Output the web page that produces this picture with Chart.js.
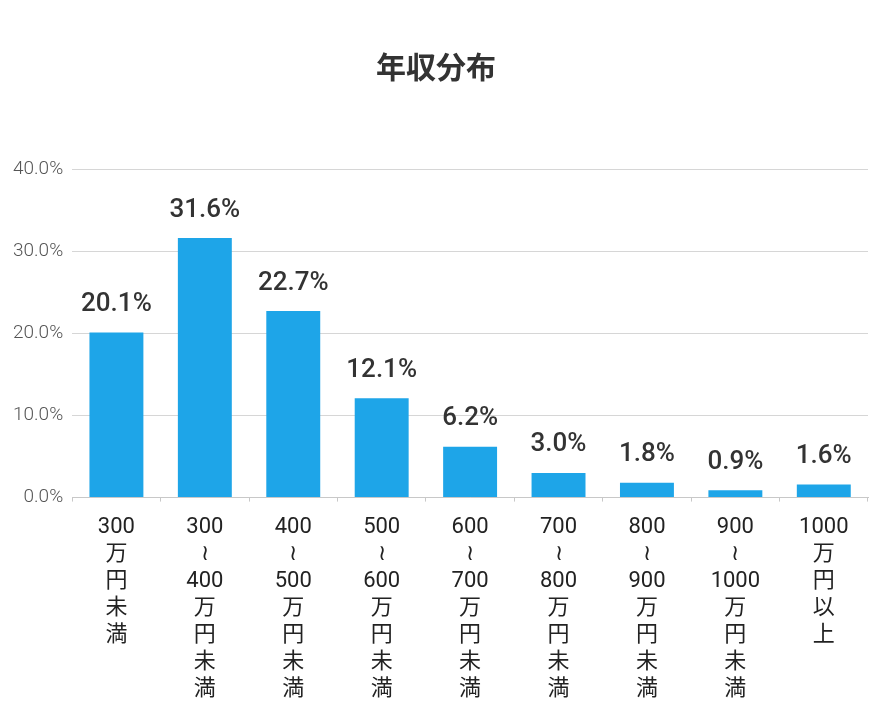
<!DOCTYPE html>
<html>
<head>
<meta charset="utf-8">
<style>
    body { margin: 0; background: #fff; }
    #wrap { width: 880px; height: 720px; }
</style>
</head>
<body>
<div id="wrap"><canvas id="incomeChart" width="880" height="720"></canvas></div>

<script src="https://cdn.jsdelivr.net/npm/chart.js"></script>
<script type="text/javascript">
    // 年収分布 data
    const categories = [
        ["300", "万", "円", "未", "満"],
        ["300", "≀", "400", "万", "円", "未", "満"],
        ["400", "≀", "500", "万", "円", "未", "満"],
        ["500", "≀", "600", "万", "円", "未", "満"],
        ["600", "≀", "700", "万", "円", "未", "満"],
        ["700", "≀", "800", "万", "円", "未", "満"],
        ["800", "≀", "900", "万", "円", "未", "満"],
        ["900", "≀", "1000", "万", "円", "未", "満"],
        ["1000", "万", "円", "以", "上"]
    ];
    const shares = [20.1, 31.6, 22.7, 12.1, 6.2, 3.0, 1.8, 0.9, 1.6];
    const yTicks = [0, 10, 20, 30, 40];

    const fontFamily = "Roboto, 'Noto Sans CJK JP', sans-serif";

    // values above each bar
    const valueLabels = {
        id: "valueLabels",
        afterDatasetsDraw(chart) {
            let ctx = chart.ctx;
            let meta = chart.getDatasetMeta(0);
            ctx.save();
            ctx.font = "500 26px " + fontFamily;
            ctx.fillStyle = "#333";
            ctx.textAlign = "center";
            ctx.textBaseline = "middle";
            meta.data.forEach((bar, i) => {
                ctx.fillText(shares[i].toFixed(1) + "%", bar.x, bar.y - 28);
            });
            ctx.restore();
        }
    };

    let ctx = document.getElementById("incomeChart").getContext("2d");
    new Chart(ctx, {
        type: "bar",
        data: {
            labels: categories,
            datasets: [{
                label: "年収分布",
                data: shares,
                backgroundColor: "#1ea5e8",
                barPercentage: 0.61,
                categoryPercentage: 1.0
            }]
        },
        options: {
            responsive: false,
            animation: false,
            layout: { padding: { left: 4, right: 12, top: 0, bottom: 5 } },
            plugins: {
                legend: { display: false },
                tooltip: { enabled: false },
                title: {
                    display: true,
                    text: "年収分布",
                    color: "#333",
                    font: { family: fontFamily, size: 30, weight: "bold" },
                    padding: { top: 52, bottom: 81 }
                }
            },
            scales: {
                x: {
                    offset: true,
                    grid: { drawOnChartArea: false, drawTicks: true, tickLength: 4, color: "#c8c8c8" },
                    border: { color: "#c8c8c8" },
                    ticks: {
                        color: "#222",
                        font: { family: fontFamily, size: 22, lineHeight: 1.23 },
                        padding: 12,
                        maxRotation: 0,
                        autoSkip: false
                    }
                },
                y: {
                    min: 0,
                    max: 40,
                    afterBuildTicks: axis => {
                        axis.ticks = yTicks.map(v => ({ value: v }));
                    },
                    grid: { color: "#d6d6d6", drawTicks: false },
                    border: { display: false },
                    ticks: {
                        color: "#555",
                        padding: 9,
                        font: { family: fontFamily, size: 19, weight: "300" },
                        callback: v => v.toFixed(1) + "%"
                    }
                }
            }
        },
        plugins: [valueLabels]
    });
</script>
</body>
</html>
